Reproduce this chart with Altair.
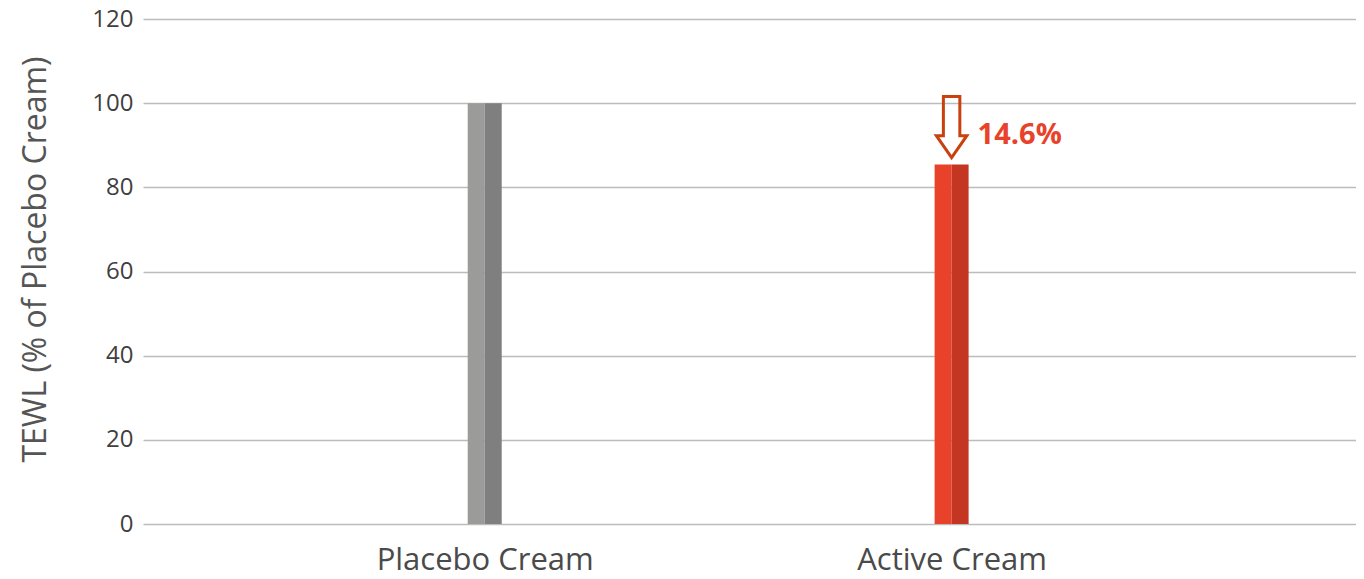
import altair as alt
import pandas as pd

categories = ["Placebo Cream", "Active Cream"]
values = [100, 85.4]
y_ticks = [0, 20, 40, 60, 80, 100, 120]
annotation_category = ["Active Cream"]
annotation_value = [85.4]
annotation_label = ["14.6%"]

df = pd.DataFrame({"category": categories, "value": values})
ann = pd.DataFrame({"category": annotation_category, "value": annotation_value,
                    "label": annotation_label})

FONT = "Open Sans"

x_enc = alt.X(
    "category:N",
    sort=categories,
    scale=alt.Scale(type="point", domain=categories, padding=0.799, align=0.458),
    axis=alt.Axis(title=None, domain=False, ticks=False, grid=False, labelAngle=0,
                  labelFontSize=31, labelColor="#4a4a4a", labelFont=FONT,
                  labelPadding=21, labelLimit=0),
)
y_enc = alt.Y(
    "value:Q",
    scale=alt.Scale(domain=[0, 120], nice=False, zero=True),
    axis=alt.Axis(values=y_ticks, title="TEWL (% of Placebo Cream)", domain=False,
                  ticks=False, grid=True, gridColor="#bcbcbc", gridWidth=1.5,
                  labelFontSize=24, labelColor="#3f3f3f", labelFont=FONT,
                  labelPadding=10, titleFont=FONT, titleFontSize=32,
                  titleFontWeight="normal", titleColor="#555555",
                  titleX=-108, titleY=240, titleBaseline="middle",
                  titleAngle=270),
)

base = alt.Chart(df)
left = base.mark_bar(size=17, xOffset=-8.5).encode(
    x=x_enc, y=y_enc,
    color=alt.Color("category:N", scale=alt.Scale(domain=categories,
                                                  range=["#9b9b99", "#e8432a"]),
                    legend=None),
)
right = base.mark_bar(size=17, xOffset=8.5).encode(
    x=x_enc, y=y_enc,
    color=alt.Color("category:N", scale=alt.Scale(domain=categories,
                                                  range=["#7f7f7f", "#c43622"]),
                    legend=None),
)

arrow_path = ("M -0.27 -1 L 0.27 -1 L 0.27 0.28 L 0.5 0.28 L 0 1 "
              "L -0.5 0.28 L -0.27 0.28 Z")
arrow = alt.Chart(ann).mark_point(
    shape=arrow_path, filled=False, stroke="#c8410f", strokeWidth=3,
    size=3721, yOffset=-37.5, opacity=1,
).encode(x=x_enc, y=y_enc)

label = alt.Chart(ann).mark_text(
    align="left", baseline="alphabetic", dx=26, dy=-21, font=FONT,
    fontSize=29, fontWeight="bold", color="#e8432a",
).encode(x=x_enc, y=y_enc, text="label:N")

chart = (
    alt.layer(left, right, arrow, label)
    .resolve_scale(color="independent")
    .properties(
        width=1213, height=505,
        background="white",
        autosize=alt.AutoSizeParams(type="none"),
        padding={"left": 135, "top": 11, "right": 0, "bottom": 50},
    )
    .configure_view(strokeWidth=0, stroke=None)
)

chart.save("out.html", embed_options={"renderer": "svg", "actions": False})
